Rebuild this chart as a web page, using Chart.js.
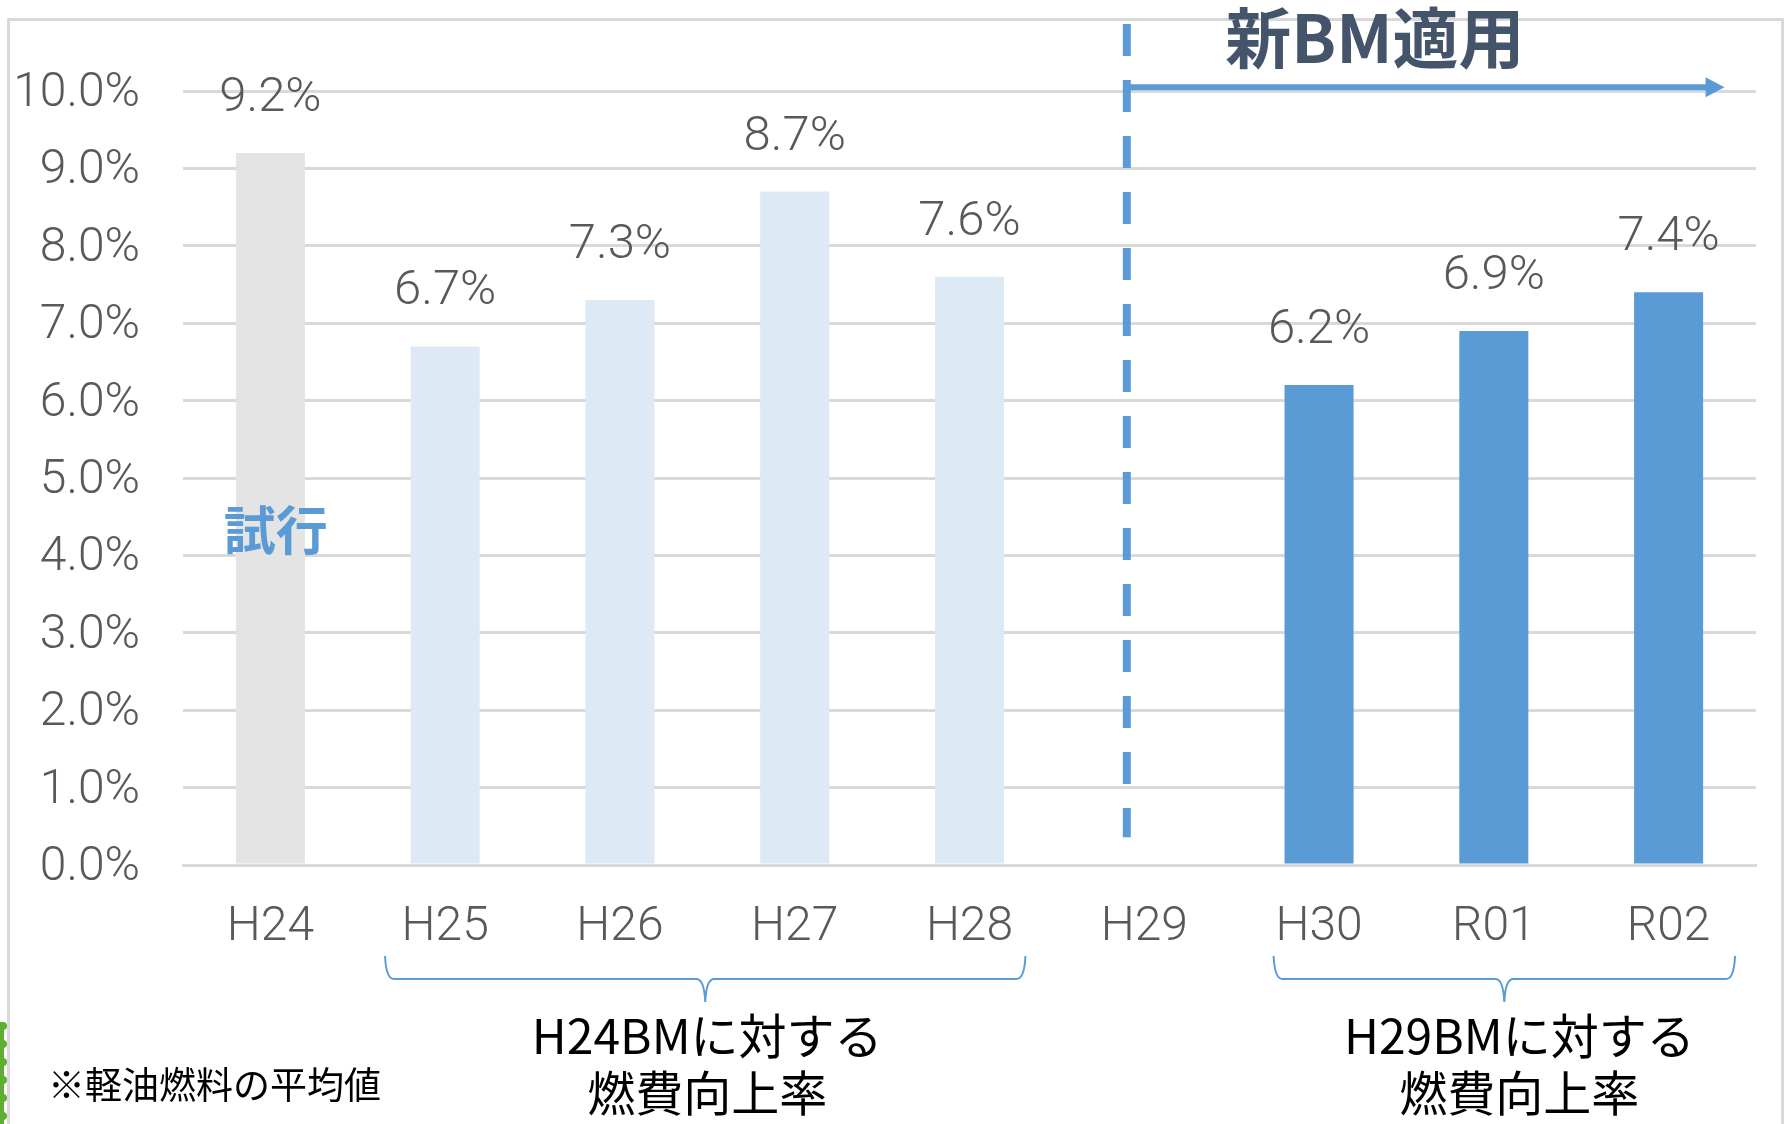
<!DOCTYPE html>
<html lang="ja">
<head>
<meta charset="utf-8">
<title>燃費向上率</title>
<script src="https://cdn.jsdelivr.net/npm/chart.js@4.4.1/dist/chart.umd.min.js"></script>
<style>
  html, body { margin: 0; padding: 0; background: #fff; }
  #wrap { position: relative; width: 1791px; height: 1124px; }
</style>
</head>
<body>
<div id="wrap"><canvas id="chart"></canvas></div>
<script>
// ----------------------------------------------------
// DATA
// ----------------------------------------------------
const years = ["H24", "H25", "H26", "H27", "H28", "H29", "H30", "R01", "R02"];
const rates = [9.2, 6.7, 7.3, 8.7, 7.6, null, 6.2, 6.9, 7.4];
const yTickValues = [0, 1, 2, 3, 4, 5, 6, 7, 8, 9, 10];
const titleText = "新BM適用";
const trialText = "試行";
const groupTexts = [["H24BMに対する", "燃費向上率"], ["H29BMに対する", "燃費向上率"]];
const noteText = "※軽油燃料の平均値";

// ----------------------------------------------------
// STYLE
// ----------------------------------------------------
const GRAY_BAR = "#E4E4E4";
const LIGHT_BAR = "#DDEAF6";
const BLUE = "#5B9BD5";
const GRID = "#D9D9D9";
const TEXT_GRAY = "#595959";
const LATIN = "Roboto, 'Noto Sans', sans-serif";
const CJK = "'Noto Sans CJK JP', 'Noto Sans', sans-serif";

const barColors = years.map((y, i) => i === 0 ? GRAY_BAR : (i <= 5 ? LIGHT_BAR : BLUE));

// ----------------------------------------------------
// PLUGINS
// ----------------------------------------------------

// value labels above the bars
const valueLabelPlugin = {
    id: "valueLabels",
    afterDatasetsDraw(chart) {
        const { ctx } = chart;
        const meta = chart.getDatasetMeta(0);
        ctx.save();
        ctx.font = `300 49px ${LATIN}`;
        ctx.fillStyle = TEXT_GRAY;
        ctx.textAlign = "center";
        ctx.textBaseline = "alphabetic";
        meta.data.forEach((bar, i) => {
            if (rates[i] == null) return;
            ctx.fillText(rates[i].toFixed(1) + "%", bar.x, bar.y - 42);
        });
        ctx.restore();
    }
};

// dashed separator, arrow, title, brackets, notes
const annotationPlugin = {
    id: "annotations",
    afterDraw(chart) {
        const { ctx, chartArea } = chart;
        const xs = chart.scales.x;
        const ys = chart.scales.y;
        ctx.save();

        // outer frame
        ctx.strokeStyle = GRID;
        ctx.lineWidth = 3;
        ctx.strokeRect(8.5, 19.5, 1774, 1200);

        // green scrap on the left edge
        ctx.fillStyle = "#5DAF32";
        ctx.fillRect(0, 1022, 4, 102);
        for (let y = 1018; y < 1124; y += 18) {
            ctx.beginPath();
            ctx.arc(3, y + 8, 4, 0, Math.PI * 2);
            ctx.fill();
        }

        // dashed separator
        const sepX = xs.getPixelForValue(4.9);
        ctx.strokeStyle = BLUE;
        ctx.lineWidth = 8;
        ctx.setLineDash([32, 24]);
        ctx.beginPath();
        ctx.moveTo(sepX, chartArea.top - 67);
        ctx.lineTo(sepX, ys.getPixelForValue(0.36));
        ctx.stroke();
        ctx.setLineDash([]);

        // arrow
        const arrowY = ys.getPixelForValue(10.05);
        const tipX = xs.getPixelForValue(8.32);
        ctx.lineWidth = 6;
        ctx.beginPath();
        ctx.moveTo(sepX, arrowY);
        ctx.lineTo(tipX - 16, arrowY);
        ctx.stroke();
        ctx.fillStyle = BLUE;
        ctx.beginPath();
        ctx.moveTo(tipX, arrowY);
        ctx.lineTo(tipX - 19, arrowY - 10);
        ctx.lineTo(tipX - 19, arrowY + 10);
        ctx.closePath();
        ctx.fill();

        // title
        ctx.fillStyle = "#44546A";
        ctx.font = `bold 66px ${CJK}`;
        ctx.textAlign = "center";
        ctx.textBaseline = "middle";
        ctx.fillText(titleText, xs.getPixelForValue(6.32), 38);

        // trial label
        ctx.fillStyle = BLUE;
        ctx.font = `bold 52px ${CJK}`;
        ctx.fillText(trialText, xs.getPixelForValue(0.03), ys.getPixelForValue(4.33));

        // brackets
        const spans = [[0.656, 4.32], [5.74, 8.38]];
        const textShift = [2, 15];
        const top = chartArea.bottom + 91;
        const mid = chartArea.bottom + 114;
        const low = chartArea.bottom + 137;
        ctx.strokeStyle = BLUE;
        ctx.lineWidth = 2;
        spans.forEach((s, k) => {
            const x0 = xs.getPixelForValue(s[0]);
            const x1 = xs.getPixelForValue(s[1]);
            const cx = (x0 + x1) / 2;
            ctx.beginPath();
            ctx.moveTo(x0, top);
            ctx.quadraticCurveTo(x0 + 1, mid, x0 + 9, mid);
            ctx.lineTo(cx - 9, mid);
            ctx.quadraticCurveTo(cx - 1, mid, cx, low);
            ctx.quadraticCurveTo(cx + 1, mid, cx + 9, mid);
            ctx.lineTo(x1 - 9, mid);
            ctx.quadraticCurveTo(x1 - 1, mid, x1, top);
            ctx.stroke();

            ctx.fillStyle = "#000";
            ctx.font = `48px ${CJK}`;
            ctx.textAlign = "center";
            ctx.textBaseline = "middle";
            ctx.fillText(groupTexts[k][0], cx + textShift[k], chartArea.bottom + 171);
            ctx.fillText(groupTexts[k][1], cx + textShift[k], chartArea.bottom + 228);
        });

        // footnote
        ctx.fillStyle = "#000";
        ctx.font = `37px ${CJK}`;
        ctx.textAlign = "left";
        ctx.fillText(noteText, 48, chartArea.bottom + 220);

        ctx.restore();
    }
};

// ----------------------------------------------------
// CHART
// ----------------------------------------------------
new Chart(document.getElementById("chart"), {
    type: "bar",
    data: {
        labels: years,
        datasets: [{
            data: rates,
            backgroundColor: barColors,
            categoryPercentage: 1,
            barPercentage: 0.395
        }]
    },
    options: {
        responsive: true,
        maintainAspectRatio: false,
        animation: false,
        layout: { padding: { left: 0, right: 35, top: 91, bottom: 0 } },
        plugins: {
            legend: { display: false },
            tooltip: { enabled: false }
        },
        scales: {
            x: {
                afterFit(scale) { scale.height = 259; },
                grid: { display: false, drawTicks: false },
                border: { display: true, color: GRID, width: 3 },
                ticks: {
                    color: TEXT_GRAY,
                    padding: 34,
                    font: { family: LATIN, size: 48, weight: "300" }
                }
            },
            y: {
                min: 0,
                max: 10,
                afterFit(scale) { scale.width = 183; },
                afterBuildTicks(scale) { scale.ticks = yTickValues.map(v => ({ value: v })); },
                grid: { color: GRID, lineWidth: 3, drawTicks: false },
                border: { display: false },
                ticks: {
                    autoSkip: false,
                    color: TEXT_GRAY,
                    padding: 43,
                    labelOffset: 3,
                    font: { family: LATIN, size: 48, weight: "300" },
                    callback: v => v.toFixed(1) + "%"
                }
            }
        }
    },
    plugins: [valueLabelPlugin, annotationPlugin]
});
</script>
</body>
</html>
